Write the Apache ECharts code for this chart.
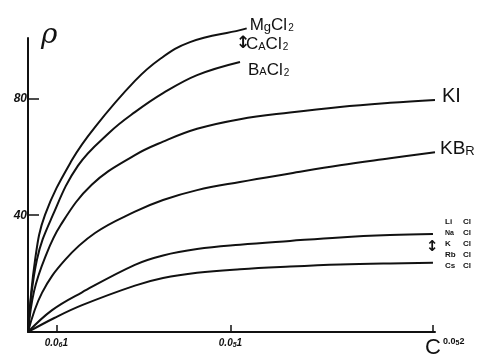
<!DOCTYPE html>
<html><head><meta charset="utf-8">
<script src="https://cdn.jsdelivr.net/npm/echarts@6/dist/echarts.min.js"></script>
<style>html,body{margin:0;padding:0;background:#fff}#c{width:477px;height:358px}</style>
</head><body><div id="c"></div>
<script>
// concentration C in units of 1e-6 (0.0_5 1 = 10); rho values
const xTickValues = [1.4, 10, 20];
const xTickLabels = ['0.0{s|6}1', '0.0{s|5}1', '0.0{s|5}2'];
const yTickValues = [40, 80];

const mgcl2 = [[0,0],[0.35,24.7],[0.84,40.1],[2.17,58.9],[3.31,70.2],[5.28,86],[6.52,93.5],[8.0,99.3],[10.47,103.4],[10.8,104]];
const bacl2 = [[0,0],[0.44,24.7],[1.23,40.1],[2.47,57],[4.05,68.5],[5.28,75.3],[6.67,81.8],[8.35,88],[10.47,92.5]];
const ki    = [[0,0],[0.3,14],[0.84,25.5],[1.6,36.5],[3.16,50.5],[5.28,60.6],[6.67,65.2],[8.35,69.6],[10.47,72.9],[12.94,75.2],[15.41,77.1],[17.88,78.5],[20.1,79.5]];
const kbr   = [[0,0],[0.69,13.4],[1.83,24.7],[3.31,33.9],[5.28,41.2],[6.67,45.2],[8.35,48.6],[10.47,51.4],[12.94,54.3],[15.41,57.1],[17.88,59.5],[20.1,61.6]];
const licl  = [[0,0],[1.19,7.5],[2.67,13.6],[5.28,23],[6.67,26.2],[8.35,28.4],[10.47,29.9],[12.94,31.2],[15.41,32.4],[17.88,33.2],[20,33.6]];
const cscl  = [[0,0],[1.3,4.8],[2.67,9.2],[5.28,15.9],[6.67,18.5],[8.35,20.3],[10.47,21.5],[12.94,22.4],[15.41,23.1],[17.88,23.5],[20,23.7]];

const chart = echarts.init(document.getElementById('c'), null, {renderer:'canvas'});
const FONT = '"Liberation Sans", "DejaVu Sans", sans-serif';
const black = '#111';

function curve(name, data, endLabel) {
  const s = {
    name, type:'line', data, smooth:0.4, symbol:'none', clip:false,
    lineStyle:{color:black, width:2}, silent:true, animation:false
  };
  if (endLabel) s.endLabel = Object.assign({show:true, color:black, fontFamily:FONT}, endLabel);
  return s;
}

chart.setOption({
  animation:false,
  backgroundColor:'#fff',
  grid:{left:28, right:42, top:38, bottom:26},
  xAxis:{
    type:'value', min:0, max:20.1,
    axisLine:{show:true, lineStyle:{color:black, width:2}},
    axisTick:{show:true, inside:true, length:7, customValues:xTickValues, lineStyle:{color:black, width:1.5}},
    axisLabel:{
      show:true, customValues:xTickValues.slice(0,2), margin:5,
      formatter:(v)=>{ const i = xTickValues.indexOf(v); return i>=0 ? xTickLabels[i] : ''; },
      fontStyle:'italic', fontWeight:'bold', fontSize:10, color:black, fontFamily:FONT,
      rich:{s:{fontSize:7, fontStyle:'italic', fontWeight:'bold', padding:[5,0,0,0], color:black, fontFamily:FONT}}
    },
    splitLine:{show:false}
  },
  yAxis:{
    type:'value', min:0, max:100.7,
    axisLine:{show:true, lineStyle:{color:black, width:2}},
    axisTick:{show:true, inside:true, length:11, customValues:yTickValues, lineStyle:{color:black, width:1.5}},
    axisLabel:{show:true, customValues:yTickValues, margin:1, fontStyle:'italic', fontWeight:'bold', fontSize:12, color:black, fontFamily:FONT},
    splitLine:{show:false}
  },
  series:[
    curve('MgCl2', mgcl2, {formatter:'M{g|g}Cl{s|2}', distance:3, offset:[0,-3], fontSize:17,
      rich:{g:{fontSize:13, padding:[4,0,0,0], color:black, fontFamily:FONT}, s:{fontSize:10, padding:[6,0,0,1], color:black, fontFamily:FONT}}}),
    curve('BaCl2', bacl2, {formatter:'B{a|A}Cl{s|2}', distance:8, offset:[0,8], fontSize:17,
      rich:{a:{fontSize:11, padding:[4,0,0,0], color:black, fontFamily:FONT}, s:{fontSize:10, padding:[6,0,0,1], color:black, fontFamily:FONT}}}),
    curve('KI', ki, {formatter:'KI', distance:7, offset:[0,-3], fontSize:20}),
    curve('KBr', kbr, {formatter:'KB{r|R}', distance:5, offset:[0,-3], fontSize:19,
      rich:{r:{fontSize:13, padding:[5,0,0,0], color:black, fontFamily:FONT}}}),
    curve('LiCl', licl),
    curve('CsCl', cscl)
  ],
  graphic:[
    {type:'text', x:41, y:22, style:{text:'ρ', font:'italic 28px "DejaVu Serif"', fill:black}},
    {type:'text', x:425, y:337, style:{text:'C', font:'22px ' + FONT, fill:black}},
    {type:'text', x:443, y:336, style:{text:'0.0{s|5}2', font:'bold 9px ' + FONT, fill:black,
      rich:{s:{fontSize:7, fontWeight:'bold', padding:[4,0,0,0], fill:black}}}},
    {type:'text', x:236, y:35, style:{text:'↕', font:'bold 17px "DejaVu Sans"', fill:black}},
    {type:'text', x:246, y:36, style:{text:'C{a|A}Cl{s|2}', font:'17px ' + FONT, fill:black,
      rich:{a:{fontSize:11, padding:[4,0,0,0], fill:black}, s:{fontSize:10, padding:[6,0,0,1], fill:black}}}},
    {type:'text', x:426, y:240, style:{text:'↕', font:'bold 15px "DejaVu Sans"', fill:black}},
    {type:'group', children:[
      {type:'text', x:445, y:218, style:{text:'{w|Li}Cl', font:'bold 8px ' + FONT, fill:black, rich:{w:{width:18, fontSize:8, fontWeight:'bold'}}}},
      {type:'text', x:445, y:229, style:{text:'{w|Na}Cl', font:'bold 8px ' + FONT, fill:black, rich:{w:{width:18, fontSize:7, fontWeight:'bold'}}}},
      {type:'text', x:445, y:240, style:{text:'{w|K}Cl', font:'bold 8px ' + FONT, fill:black, rich:{w:{width:18, fontSize:8, fontWeight:'bold'}}}},
      {type:'text', x:445, y:251, style:{text:'{w|Rb}Cl', font:'bold 8px ' + FONT, fill:black, rich:{w:{width:18, fontSize:8, fontWeight:'bold'}}}},
      {type:'text', x:445, y:262, style:{text:'{w|Cs}Cl', font:'bold 8px ' + FONT, fill:black, rich:{w:{width:18, fontSize:8, fontWeight:'bold'}}}}
    ]}
  ]
});
</script>
</body></html>
